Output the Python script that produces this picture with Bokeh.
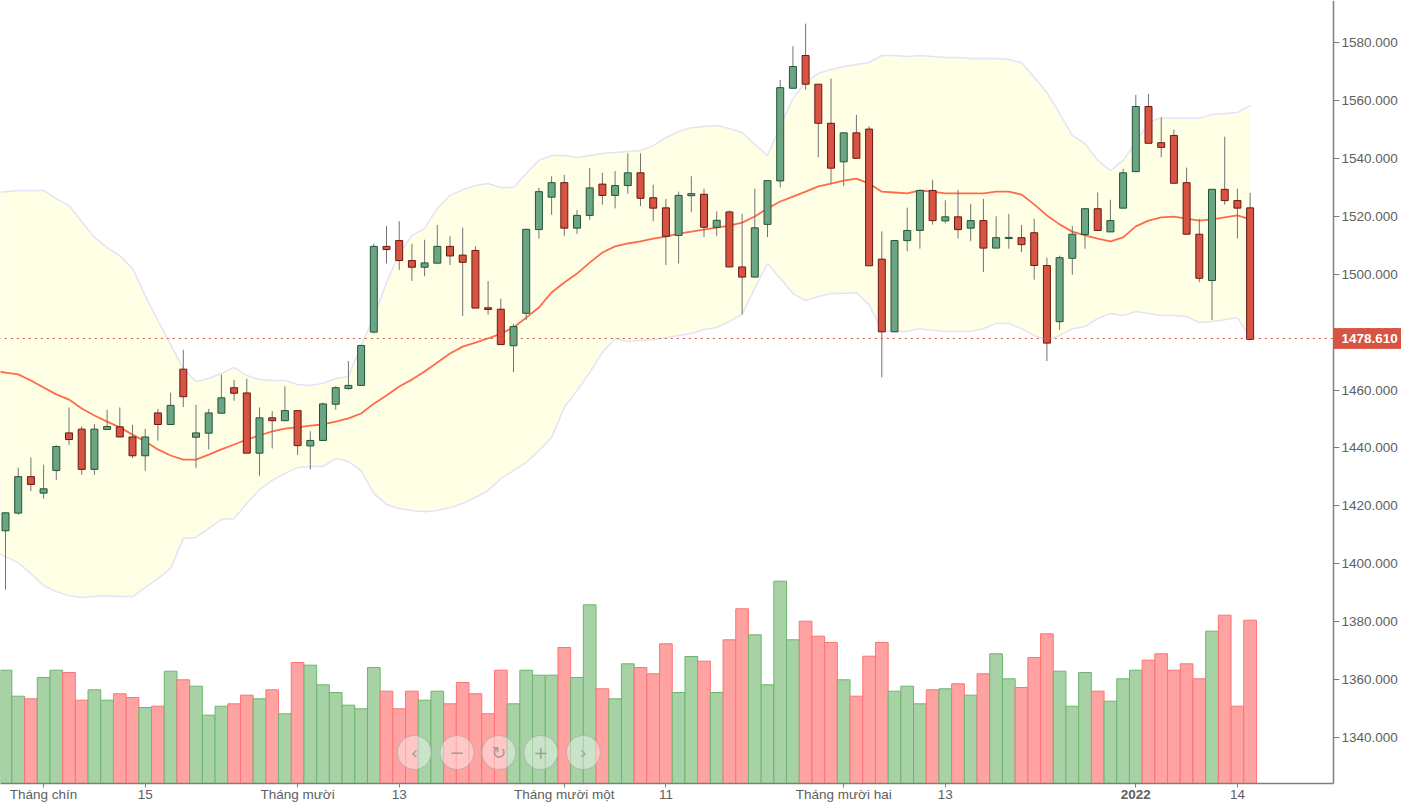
from bokeh.core.properties import value
from bokeh.embed import file_html
from bokeh.models import ColumnDataSource, FixedTicker, LinearAxis, NumeralTickFormatter, Range1d
from bokeh.plotting import figure
from bokeh.resources import INLINE

# daily candles, 27 Aug 2021 to 17 Jan 2022 (trading days only)
opens = [1411.4, 1417.5, 1430.1, 1424.4, 1432.2, 1445.2, 1446.5, 1432.6, 1446.4, 1447.3,
         1443.8, 1437.3, 1452.1, 1448.1, 1467.2, 1443.7, 1445.1, 1452.0, 1460.8, 1459.0,
         1438.2, 1450.4, 1449.4, 1452.9, 1440.7, 1442.6, 1455.1, 1460.5, 1461.6, 1480.0,
         1509.6, 1511.6, 1504.7, 1502.4, 1503.8, 1509.6, 1506.6, 1508.2, 1488.4, 1487.9,
         1475.3, 1486.5, 1515.4, 1526.6, 1531.6, 1515.9, 1520.3, 1531.1, 1527.2, 1530.6,
         1535.0, 1526.4, 1522.9, 1513.4, 1527.1, 1527.6, 1516.2, 1521.5, 1502.5, 1499.0,
         1517.2, 1532.2, 1564.2, 1575.5, 1565.6, 1552.1, 1538.8, 1548.8, 1550.1, 1505.2,
         1480.1, 1511.6, 1515.1, 1528.9, 1518.4, 1519.8, 1515.9, 1518.5, 1509.0, 1512.3,
         1512.6, 1514.3, 1503.0, 1483.6, 1505.5, 1513.7, 1522.6, 1514.6, 1522.8, 1535.4,
         1557.9, 1545.4, 1547.9, 1531.6, 1513.8, 1497.8, 1529.3, 1525.4, 1522.9]
highs = [1417.7, 1433.2, 1436.7, 1434.2, 1440.9, 1454.0, 1447.5, 1448.3, 1453.2, 1454.0,
         1448.0, 1446.6, 1453.5, 1459.1, 1473.9, 1454.9, 1453.5, 1465.3, 1463.5, 1463.9,
         1454.0, 1452.7, 1461.3, 1452.9, 1445.8, 1455.7, 1461.3, 1470.0, 1475.4, 1510.5,
         1516.6, 1518.3, 1510.5, 1511.9, 1517.0, 1513.1, 1516.1, 1509.6, 1497.6, 1491.5,
         1482.9, 1515.5, 1529.8, 1533.8, 1534.3, 1522.2, 1536.7, 1535.0, 1535.6, 1541.7,
         1541.7, 1530.9, 1526.0, 1528.5, 1533.8, 1529.5, 1521.7, 1522.0, 1520.8, 1529.5,
         1532.3, 1567.1, 1578.7, 1586.5, 1565.6, 1567.5, 1548.8, 1555.0, 1551.1, 1514.8,
         1511.6, 1523.0, 1528.9, 1532.6, 1525.5, 1529.1, 1524.3, 1526.0, 1520.0, 1520.8,
         1517.0, 1519.1, 1505.7, 1506.4, 1516.6, 1522.6, 1528.2, 1525.7, 1536.4, 1561.9,
         1562.3, 1554.1, 1549.9, 1536.8, 1519.1, 1529.3, 1547.5, 1529.5, 1528.1]
lows = [1391.1, 1417.0, 1425.1, 1422.5, 1429.0, 1441.1, 1430.7, 1430.7, 1446.4, 1443.8,
        1436.4, 1432.1, 1442.5, 1448.1, 1454.1, 1433.0, 1439.5, 1452.0, 1456.3, 1438.2,
        1430.4, 1439.8, 1449.4, 1437.6, 1432.6, 1442.6, 1453.2, 1460.1, 1461.6, 1479.6,
        1503.7, 1501.5, 1497.7, 1499.3, 1503.8, 1503.2, 1485.6, 1488.3, 1486.0, 1475.7,
        1466.2, 1484.2, 1512.3, 1520.5, 1513.1, 1513.9, 1518.8, 1524.0, 1522.7, 1527.8,
        1523.5, 1518.3, 1503.2, 1503.7, 1521.4, 1512.8, 1513.1, 1502.5, 1486.1, 1499.0,
        1512.8, 1530.0, 1564.2, 1563.7, 1540.4, 1531.2, 1530.4, 1540.0, 1502.9, 1464.4,
        1480.1, 1507.9, 1508.8, 1517.1, 1517.5, 1512.3, 1511.4, 1500.7, 1509.0, 1508.8,
        1507.6, 1498.1, 1470.0, 1480.8, 1499.8, 1508.8, 1515.1, 1514.6, 1522.8, 1535.4,
        1545.2, 1540.4, 1531.4, 1513.8, 1497.2, 1484.2, 1524.0, 1512.3, 1477.5]
closes = [1417.6, 1430.1, 1427.4, 1425.9, 1440.5, 1442.9, 1432.6, 1446.5, 1447.4, 1443.8,
          1437.3, 1443.8, 1448.1, 1454.7, 1457.7, 1445.2, 1452.1, 1457.3, 1458.9, 1438.2,
          1450.4, 1449.4, 1452.9, 1440.8, 1442.6, 1455.2, 1460.8, 1461.6, 1475.4, 1509.6,
          1508.5, 1504.7, 1502.4, 1503.9, 1509.6, 1506.3, 1504.1, 1488.3, 1487.8, 1475.7,
          1481.9, 1515.5, 1528.5, 1531.6, 1515.9, 1520.3, 1529.8, 1527.2, 1530.6, 1535.0,
          1526.2, 1522.8, 1513.1, 1527.2, 1527.8, 1516.2, 1518.6, 1502.5, 1499.0, 1516.0,
          1532.3, 1564.4, 1571.7, 1565.6, 1552.1, 1536.6, 1548.8, 1540.0, 1502.9, 1480.1,
          1511.6, 1515.1, 1528.9, 1518.5, 1519.8, 1515.4, 1518.5, 1509.0, 1512.6, 1512.7,
          1510.2, 1503.0, 1476.2, 1505.7, 1513.8, 1522.6, 1515.1, 1518.5, 1535.0, 1557.9,
          1545.2, 1543.8, 1531.4, 1513.8, 1498.6, 1529.3, 1525.4, 1522.8, 1477.5]
# volume in thousands of shares
volumes = [2266, 1746, 1694, 2120, 2266, 2220, 1666, 1874, 1666, 1794,
           1720, 1520, 1546, 2246, 2074, 1946, 1366, 1546, 1594, 1766,
           1694, 1874, 1394, 2420, 2366, 1974, 1820, 1566, 1494, 2320,
           1846, 1494, 1846, 1666, 1846, 1594, 2020, 1794, 1394, 2266,
           1594, 2266, 2166, 2166, 2720, 2120, 3574, 1894, 1694, 2394,
           2320, 2194, 2794, 1820, 2540, 2446, 1820, 2874, 3494, 2974,
           1974, 4046, 2874, 3246, 2946, 2820, 2074, 1746, 2546, 2820,
           1846, 1946, 1594, 1874, 1894, 1994, 1766, 2194, 2594, 2094,
           1920, 2520, 2994, 2246, 1546, 2220, 1846, 1646, 2094, 2266,
           2466, 2594, 2266, 2394, 2094, 3046, 3366, 1546, 3266]

# bollinger bands, first value belongs to the session before the first candle
bb_upper = [1528.2, 1528.5, 1528.9, 1528.9, 1528.9, 1526.1, 1523.7, 1518.2, 1512.7, 1509.2,
            1506.4, 1502.0, 1492.6, 1484.0, 1475.7, 1467.4, 1462.9, 1464.0, 1465.7, 1467.8,
            1465.0, 1463.6, 1463.3, 1463.3, 1461.9, 1461.6, 1462.3, 1464.0, 1464.7, 1475.4,
            1485.0, 1497.1, 1507.1, 1513.4, 1515.8, 1522.7, 1527.2, 1529.2, 1530.6, 1531.3,
            1529.9, 1529.9, 1534.8, 1539.3, 1541.0, 1541.0, 1540.3, 1541.0, 1541.7, 1542.0,
            1542.4, 1542.7, 1544.4, 1547.2, 1549.3, 1550.6, 1551.0, 1551.3, 1550.3, 1548.9,
            1544.8, 1541.0, 1551.0, 1560.7, 1566.2, 1569.3, 1570.7, 1571.7, 1572.4, 1573.1,
            1575.5, 1575.5, 1575.2, 1575.5, 1575.2, 1574.8, 1574.8, 1574.5, 1574.5, 1574.5,
            1574.1, 1573.1, 1567.9, 1562.7, 1555.5, 1547.9, 1545.1, 1539.3, 1535.8, 1539.3,
            1545.5, 1552.4, 1554.1, 1553.8, 1553.8, 1553.8, 1555.1, 1555.5, 1555.8, 1558.2]
bb_lower = [1404.6, 1402.5, 1400.4, 1396.6, 1392.5, 1390.4, 1389.0, 1388.4, 1388.7, 1389.0,
            1388.7, 1388.7, 1391.8, 1394.9, 1398.4, 1408.7, 1409.1, 1412.2, 1415.3, 1415.6,
            1420.8, 1425.6, 1428.8, 1431.2, 1433.2, 1433.6, 1433.6, 1436.4, 1435.3, 1432.2,
            1424.3, 1420.5, 1419.1, 1418.4, 1418.0, 1418.4, 1419.4, 1420.8, 1422.9, 1425.3,
            1429.4, 1432.2, 1435.0, 1439.1, 1443.6, 1454.0, 1459.8, 1466.0, 1473.0, 1477.8,
            1476.8, 1477.1, 1477.4, 1478.1, 1478.8, 1479.5, 1480.9, 1481.6, 1483.7, 1486.1,
            1495.1, 1503.7, 1498.5, 1493.3, 1490.9, 1492.3, 1493.3, 1493.3, 1493.7, 1489.5,
            1480.6, 1480.2, 1480.2, 1481.2, 1480.6, 1480.2, 1480.2, 1480.2, 1481.2, 1483.0,
            1483.0, 1481.2, 1478.8, 1477.4, 1478.8, 1481.2, 1481.9, 1484.7, 1486.4, 1485.7,
            1487.1, 1486.4, 1485.7, 1485.7, 1485.4, 1483.3, 1483.7, 1484.3, 1485.0, 1478.1]
bb_mid = [1466.7, 1466.0, 1465.4, 1463.3, 1460.9, 1458.5, 1456.7, 1453.6, 1451.2, 1449.1,
          1447.1, 1444.6, 1442.2, 1439.5, 1437.4, 1436.0, 1436.0, 1437.7, 1439.5, 1441.2,
          1442.9, 1444.3, 1445.7, 1446.7, 1447.1, 1447.7, 1448.1, 1449.1, 1450.2, 1451.9,
          1455.3, 1458.1, 1461.2, 1463.6, 1466.4, 1469.5, 1472.6, 1475.0, 1476.4, 1477.8,
          1479.5, 1481.6, 1485.0, 1488.5, 1493.7, 1497.1, 1500.2, 1504.0, 1507.5, 1509.6,
          1510.6, 1511.3, 1512.3, 1513.0, 1514.0, 1514.7, 1515.4, 1516.1, 1516.8, 1517.8,
          1519.9, 1522.7, 1525.1, 1526.8, 1528.5, 1530.3, 1531.3, 1532.3, 1533.0, 1531.3,
          1528.5, 1528.2, 1527.9, 1528.9, 1528.5, 1527.9, 1527.9, 1527.9, 1527.9, 1528.5,
          1528.5, 1527.5, 1524.1, 1520.3, 1517.2, 1514.7, 1513.4, 1512.3, 1511.3, 1512.7,
          1516.5, 1518.5, 1519.6, 1519.9, 1519.2, 1518.5, 1518.9, 1519.6, 1520.3, 1518.9]

y_ticks = list(range(1340, 1600, 20))
x_tick_pos = [3, 11, 23, 31, 44, 52, 66, 74, 89, 97]
x_tick_labels = ["Tháng chín", "15", "Tháng mười", "13", "Tháng mười một", "11",
                 "Tháng mười hai", "13", " ", "14"]
year_pos = 89
year_label = "2022"
last_price_label = "1478.610"
last_price_line = 1477.8

nav_x = [32.2, 35.55, 38.85, 42.15, 45.5]
nav_icons = ["‹", "−", "↻", "+", "›"]

GREY = "#7f7f7f"
TEXT = "#606060"
FONT = "Liberation Sans"

# the frame takes the whole canvas, the axes sit inside it at these places
X_START = -0.394
X_END = 109.92
Y_START = 1316.2
Y_END = 1594.5
X_AXIS_AT = 1324.1
Y_AXIS_AT = 104.57

idx = list(range(len(opens)))
up = [c >= o for o, c in zip(opens, closes)]
source = ColumnDataSource(data=dict(
    x=idx, high=highs, low=lows, volume=volumes,
    top=[max(o, c) for o, c in zip(opens, closes)],
    bottom=[min(o, c) for o, c in zip(opens, closes)],
    body_fill=["#6ba583" if u else "#d75442" for u in up],
    body_line=["#225437" if u else "#6b1713" for u in up],
    vol_fill=["#a6d2a6" if u else "#ffa2a2" for u in up],
    vol_line=["#6db56d" if u else "#ff7373" for u in up],
))
band = ColumnDataSource(data=dict(x=[-1] + idx, upper=bb_upper, lower=bb_lower, mid=bb_mid))

p = figure(frame_width=1401, frame_height=806,
           x_range=Range1d(X_START, X_END), y_range=Range1d(Y_START, Y_END),
           x_axis_type=None, y_axis_type=None, toolbar_location=None, tools="",
           output_backend="svg", min_border=0,
           margin=(0, 0, 0, 0), outline_line_color=None, background_fill_color="white")
p.grid.visible = False

p.extra_y_ranges["volume"] = Range1d(-460, 15660)

p.varea(x="x", y1="lower", y2="upper", source=band, fill_color="#ffffe5")
p.line(x="x", y="upper", source=band, line_color="#e3e3f5", line_width=1.5)
p.line(x="x", y="lower", source=band, line_color="#e3e3f5", line_width=1.5)
p.line(x="x", y="mid", source=band, line_color="#ff6b4a", line_width=1.8)

p.vbar(x="x", top="volume", bottom=0, width=1.0, source=source, y_range_name="volume",
       fill_color="vol_fill", line_color="vol_line", line_width=1)

p.segment(x0="x", y0="low", x1="x", y1="high", source=source, line_color="#737375", line_width=1)
p.vbar(x="x", top="top", bottom="bottom", width=0.55, source=source,
       fill_color="body_fill", line_color="body_line", line_width=1)

p.segment(x0=[-1], y0=[last_price_line], x1=[Y_AXIS_AT], y1=[last_price_line],
          line_color="#d75442", line_dash="dotted", line_width=1)

# the round buttons over the volume bars
p.circle(x=nav_x, y=[620] * 5, radius=17, radius_units="screen", y_range_name="volume",
         fill_color="white", fill_alpha=0.4, line_color="#a8a8a8", line_alpha=0.7)
p.text(x=nav_x, y=[620] * 5, text=nav_icons, y_range_name="volume", text_align="center",
       text_baseline="middle", text_color="#909090", text_alpha=0.8,
       text_font=value("DejaVu Sans"), text_font_size="18px")

x_axis = LinearAxis(fixed_location=X_AXIS_AT, ticker=FixedTicker(ticks=x_tick_pos),
                    major_label_overrides=dict(zip(x_tick_pos, x_tick_labels)),
                    bounds=(X_START, Y_AXIS_AT), major_tick_out=4, major_label_standoff=-1)
y_axis = LinearAxis(fixed_location=Y_AXIS_AT, ticker=FixedTicker(ticks=y_ticks),
                    formatter=NumeralTickFormatter(format="0.000"),
                    bounds=(X_AXIS_AT, Y_END), major_tick_out=6, major_label_standoff=2)
for ax in (x_axis, y_axis):
    ax.axis_line_color = GREY
    ax.axis_line_width = 1.5
    ax.major_tick_line_color = GREY
    ax.major_tick_in = 0
    ax.minor_tick_line_color = None
    ax.major_label_text_color = TEXT
    ax.major_label_text_font = FONT
    ax.major_label_text_font_size = "13.5px"
p.add_layout(x_axis, "below")
p.add_layout(y_axis, "right")

p.text(x=[year_pos], y=[X_AXIS_AT], y_offset=[11], text=[year_label], text_align="center",
       text_baseline="middle", text_color=TEXT, text_font=value(FONT),
       text_font_size="13.5px", text_font_style="bold")

# last price tag on the axis, drawn over the 1480 tick label
p.quad(left=[Y_AXIS_AT], right=[X_END], bottom=[last_price_line - 3.4], top=[last_price_line + 3.4],
       fill_color="#d75442", line_color="#d75442", level="overlay")
p.text(x=[Y_AXIS_AT], y=[last_price_line], x_offset=[8], text=[last_price_label], text_align="left",
       text_baseline="middle", text_color="white", text_font=value(FONT),
       text_font_size="13.5px", text_font_style="bold", level="overlay")

open("out.html", "w").write(file_html(p, INLINE))
